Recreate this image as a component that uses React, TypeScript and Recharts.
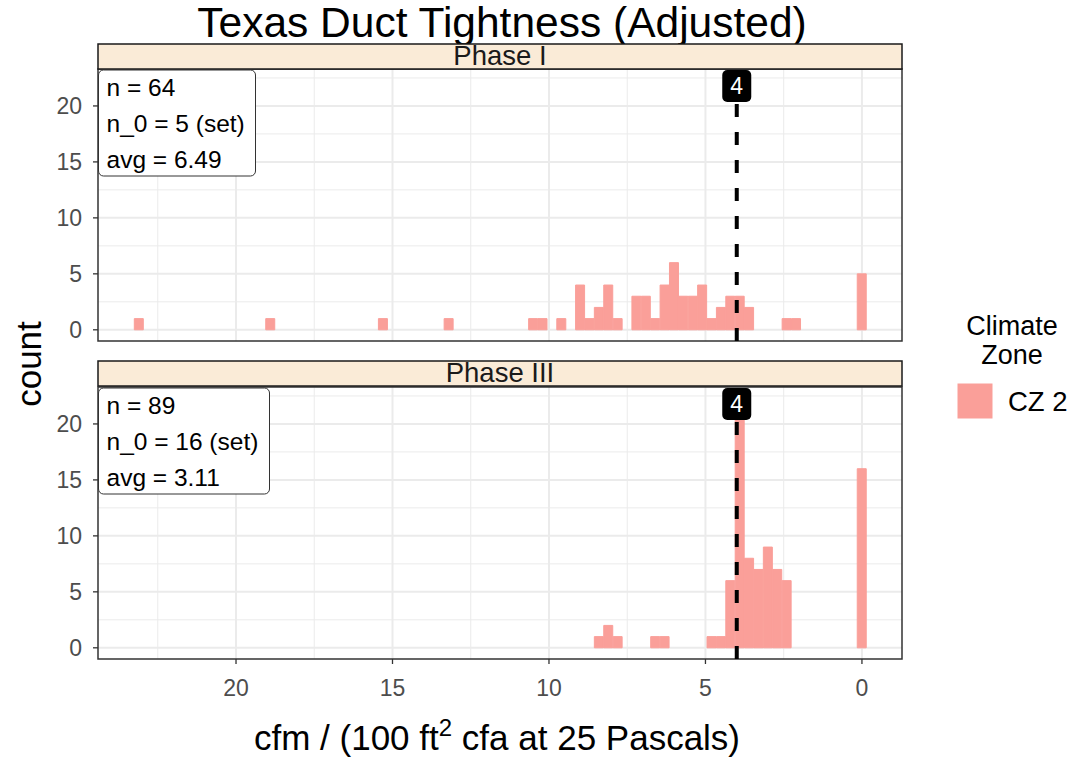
import React from "react";
import {
  BarChart,
  Bar,
  XAxis,
  YAxis,
  CartesianGrid,
  ReferenceLine,
  ReferenceArea,
} from "recharts";

// histogram bins (0.3 wide), centre of each bin in cfm / 100 ft2
const phaseIBins = [
  0, 2.1, 2.4, 3.6, 3.9, 4.2, 4.5, 4.8, 5.1, 5.4, 5.7, 6.0, 6.3, 6.6, 6.9,
  7.2, 7.8, 8.1, 8.4, 8.7, 9.0, 9.6, 10.2, 10.5, 13.2, 15.3, 18.9, 23.1,
];
const phaseICounts = [
  5, 1, 1, 2, 3, 3, 2, 1, 4, 3, 3, 6, 4, 1, 3, 3, 1, 4, 2, 1, 4, 1, 1, 1, 1,
  1, 1, 1,
];
const phaseIIIBins = [
  0, 2.4, 2.7, 3.0, 3.3, 3.6, 3.9, 4.2, 4.5, 4.8, 6.3, 6.6, 7.8, 8.1, 8.4,
];
const phaseIIICounts = [16, 6, 7, 9, 7, 8, 22, 6, 1, 1, 1, 1, 1, 2, 1];

const phaseILines = ["n = 64", "n_0 = 5 (set)", "avg = 6.49"];
const phaseIIILines = ["n = 89", "n_0 = 16 (set)", "avg = 3.11"];

const xTicks = [0, 5, 10, 15, 20];
const xMinor = [2.5, 7.5, 12.5, 17.5, 22.5];
const yTicks = [0, 5, 10, 15, 20];
const yMinor = [2.5, 7.5, 12.5, 17.5, 22.5];
const target = 4;

const X_DOMAIN: [number, number] = [-1.28, 24.41];
const Y_DOMAIN: [number, number] = [-1.0, 23.3];

const FONT = '"Liberation Sans", Arial, Helvetica, sans-serif';
// #F8766D at 70% over white, drawn solid so adjacent bins don't leave seams
const BAR_FILL = "#FA9F99";
const GRID = "#EBEBEB";
const INK = "#333333";

const phaseIRows = phaseIBins.map((x, i) => ({ x, count: phaseICounts[i] }));
const phaseIIIRows = phaseIIIBins.map((x, i) => ({ x, count: phaseIIICounts[i] }));

const TargetTag = (props: any) => {
  const vb = props.viewBox || {};
  const cx = vb.x;
  const top = vb.y;
  return (
    <g>
      <rect x={cx - 14.5} y={top + 1} width={29} height={32} rx={5} fill="#000" />
      <text
        x={cx}
        y={top + 25}
        textAnchor="middle"
        fill="#fff"
        fontSize={23}
        fontFamily={FONT}
      >
        {String(target)}
      </text>
    </g>
  );
};

type PanelProps = {
  rows: { x: number; count: number }[];
  height: number;
  top: number;
  bottom: number;
  showX: boolean;
};

const Panel = ({ rows, height, top, bottom, showX }: PanelProps) => (
  <div style={{ position: "absolute", left: 0, top: 0 }}>
    <BarChart
      width={1073}
      height={height}
      data={rows}
      margin={{ top, right: 171, bottom, left: 38 }}
      barCategoryGap={0}
      barGap={0}
    >
      <CartesianGrid
        stroke={GRID}
        strokeWidth={1}
        horizontalValues={yMinor}
        verticalValues={xMinor}
      />
      <CartesianGrid
        stroke={GRID}
        strokeWidth={2}
        horizontalValues={yTicks}
        verticalValues={xTicks}
      />
      <XAxis
        type="number"
        dataKey="x"
        domain={X_DOMAIN}
        allowDataOverflow
        reversed
        ticks={xTicks}
        hide={!showX}
        height={40}
        axisLine={false}
        tickLine={{ stroke: INK, strokeWidth: 1.3 }}
        tickSize={5}
        tickMargin={16}
        tick={{ fill: "#4D4D4D", fontSize: 23 }}
      />
      <YAxis
        type="number"
        domain={Y_DOMAIN}
        allowDataOverflow
        ticks={yTicks}
        width={60}
        axisLine={false}
        tickLine={{ stroke: INK, strokeWidth: 1.3 }}
        tickSize={5}
        tickMargin={11}
        tick={{ fill: "#4D4D4D", fontSize: 23 }}
      />
      <Bar
        dataKey="count"
        fill={BAR_FILL}
        stroke={BAR_FILL}
        strokeWidth={1}
        isAnimationActive={false}
      />
      <ReferenceArea
        x1={X_DOMAIN[0]}
        x2={X_DOMAIN[1]}
        y1={Y_DOMAIN[0]}
        y2={Y_DOMAIN[1]}
        fill="none"
        fillOpacity={0}
        stroke={INK}
        strokeWidth={1.5}
      />
      <ReferenceLine
        x={target}
        stroke="#000"
        strokeWidth={4}
        strokeDasharray="13 15"
        label={<TargetTag />}
      />
    </BarChart>
  </div>
);

const StatBox = ({ lines, top, width }: { lines: string[]; top: number; width: number }) => (
  <g>
    <rect x={98.5} y={top} width={width} height={106} rx={5} fill="#fff" stroke={INK} strokeWidth={1} />
    {lines.map((t, i) => (
      <text key={t} x={106.5} y={top + 26 + i * 36} fontSize={24.5} fill="#000">
        {t}
      </text>
    ))}
  </g>
);

const Strip = ({ label, top }: { label: string; top: number }) => (
  <g>
    <rect x={98} y={top} width={804} height={25} fill="#FAEBD7" stroke="#1A1A1A" strokeWidth={1.5} />
    <text x={500} y={top + 21} textAnchor="middle" fontSize={27.5} fill="#1A1A1A">
      {label}
    </text>
  </g>
);

export default function App() {
  return (
    <div
      style={{
        position: "absolute",
        left: 0,
        top: 0,
        width: 1073,
        height: 757,
        background: "#fff",
        fontFamily: FONT,
      }}
    >
      <Panel rows={phaseIRows} height={345} top={69} bottom={4} showX={false} />
      <Panel rows={phaseIIIRows} height={757} top={387} bottom={58} showX />
      <svg
        width={1073}
        height={757}
        style={{ position: "absolute", left: 0, top: 0, pointerEvents: "none" }}
        fontFamily={FONT}
      >
        <text x={502} y={37} textAnchor="middle" fontSize={42.5} fill="#000">
          Texas Duct Tightness (Adjusted)
        </text>
        <Strip label="Phase I" top={44} />
        <Strip label="Phase III" top={361} />
        <StatBox lines={phaseILines} top={70} width={157} />
        <StatBox lines={phaseIIILines} top={388} width={171} />
        <text x={497} y={750} textAnchor="middle" fontSize={35} fill="#000">
          cfm / (100 ft
          <tspan dy={-14} fontSize={24}>
            2
          </tspan>
          <tspan dy={14}> cfa at 25 Pascals)</tspan>
        </text>
        <text
          x={41}
          y={364}
          textAnchor="middle"
          fontSize={35}
          fill="#000"
          transform="rotate(-90 41 364)"
        >
          count
        </text>
        <text x={1012} y={335} textAnchor="middle" fontSize={27} fill="#000">
          Climate
        </text>
        <text x={1012} y={363.5} textAnchor="middle" fontSize={27} fill="#000">
          Zone
        </text>
        <rect x={957.5} y={383.5} width={35} height={35} fill={BAR_FILL} />
        <text x={1008} y={411} fontSize={27.5} fill="#000">
          CZ 2
        </text>
      </svg>
    </div>
  );
}
